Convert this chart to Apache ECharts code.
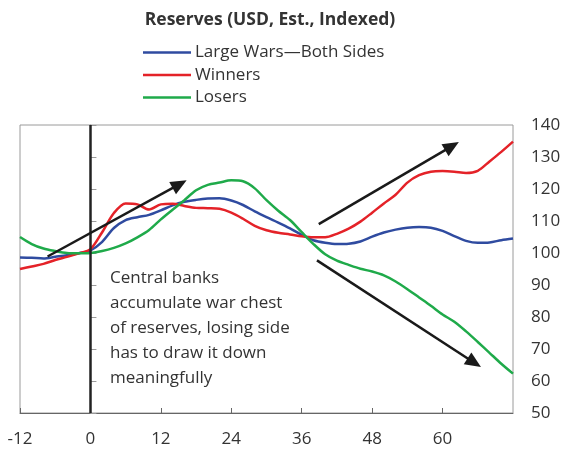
<!DOCTYPE html>
<html><head><meta charset="utf-8">
<script src="https://cdn.jsdelivr.net/npm/echarts@6/dist/echarts.min.js"></script>
<style>html,body{margin:0;padding:0;background:#fff}#c{width:565px;height:450px}</style>
</head><body><div id="c"></div>
<script>
const months = [-12,-10,-8,-6,-4,-2,0,2,4,6,8,10,12,14,16,18,20,22,24,26,28,30,32,34,36,38,40,42,44,46,48,50,52,54,56,58,60,62,64,66,68,70,72];
const bothSides = [98.6,98.5,98.3,98.8,99.3,99.9,100.8,103.5,107.8,110.3,111.2,111.9,113.3,114.9,116,116.6,117,117.1,116.4,115,113,111.2,109.5,107.7,105.7,104,103.2,102.8,102.9,103.6,105.1,106.4,107.3,107.9,108.1,107.9,106.9,105.3,103.8,103.2,103.3,104,104.5];
const winners = [95,95.8,96.6,97.8,98.8,99.9,101.2,106.5,112.5,115.5,115.2,113.6,115.2,115.4,114.7,114.1,114,113.8,112.6,110.7,108.5,107.1,106.3,105.8,105.2,104.9,104.9,106,107.6,109.8,112.6,115.5,118.2,122,124.3,125.4,125.6,125.4,125,125.7,128.6,131.6,134.8];
const losers = [105,102.8,101.4,100.6,100,99.9,100,100.6,101.6,103,104.9,107.2,110.5,113.5,116.5,119.6,121.3,122,122.7,122.4,120.2,116.5,113.2,110.3,106.5,102.8,99.6,97.6,96.3,95.1,94.2,93,91.1,88.7,86.1,83.5,80.8,78.5,75.5,72.2,68.8,65.4,62.3];
const seriesNames = ['Large Wars\u2014Both Sides','Winners','Losers'];
const xTicks = {min:-12, max:72, interval:12};
const yTicks = {min:50, max:140, interval:10};
const arrows = [[[-7.3,98.9],[15.2,121.5]],[[38.9,109],[61.6,133.4]],[[38.6,97.7],[65.4,65.7]]];
const note = 'Central banks\naccumulate war chest\nof reserves, losing side\nhas to draw it down\nmeaningfully';

const FONT = '"Open Sans", "Noto Sans", sans-serif';
const colors = ['#2f4ba0','#e42228','#1faa4a'];
const zip = a => months.map((m,i)=>[m,a[i]]);
const chart = echarts.init(document.getElementById('c'));
const lineSeries = [bothSides,winners,losers].map((d,i)=>({
  name: seriesNames[i], type:'line', data: zip(d), smooth:0.3, symbol:'none',
  lineStyle:{width:2.5,color:colors[i]}, itemStyle:{color:colors[i]}, z:3
}));
lineSeries.push({
  type:'line', data:[], silent:true, z:4,
  markLine:{
    silent:true, animation:false,
    label:{show:false},
    data:[
      [{xAxis:0, yAxis:yTicks.min, symbol:'none', lineStyle:{color:'#222',width:2.5,type:'solid'}},
       {xAxis:0, yAxis:yTicks.max, symbol:'none'}],
      ...arrows.map(a=>[
        {coord:a[0], symbol:'none', lineStyle:{color:'#1a1a1a',width:2.5,type:'solid'}},
        {coord:a[1], symbol:'triangle', symbolSize:[14,16]}
      ])
    ]
  }
});
chart.setOption({
  animation:false,
  title:{text:'Reserves (USD, Est., Indexed)', left:265, top:6, textAlign:'center',
    textStyle:{fontFamily:FONT, fontSize:17.5, fontWeight:'bold', color:'#333'}},
  legend:{orient:'vertical', left:143, top:44, padding:0, itemWidth:48, itemHeight:14, itemGap:5.5,
    icon:'path://M0,6 L48,6 L48,8.5 L0,8.5 Z',
    textStyle:{fontFamily:FONT, fontSize:17, color:'#333', padding:[0,0,0,-1]},
    data:seriesNames},
  grid:{left:20, right:52, top:125, bottom:37, show:true, borderColor:'#9a9a9a', borderWidth:1},
  xAxis:{type:'value', min:xTicks.min, max:xTicks.max, interval:xTicks.interval,
    axisLine:{lineStyle:{color:'#666',width:1}}, axisTick:{inside:true,length:5,lineStyle:{color:'#666'}},
    splitLine:{show:false},
    axisLabel:{showMaxLabel:false, fontFamily:FONT, fontSize:17, color:'#333', margin:18}},
  yAxis:{type:'value', position:'right', min:yTicks.min, max:yTicks.max, interval:yTicks.interval,
    axisLine:{show:true, lineStyle:{color:'#9a9a9a'}}, axisTick:{show:true,length:6,lineStyle:{color:'#9a9a9a'}},
    splitLine:{show:false},
    axisLabel:{fontFamily:FONT, fontSize:17, color:'#333', margin:18}},
  graphic:[{type:'text', left:110, top:266, silent:true,
    style:{text:note, fontFamily:FONT, fontSize:17, lineHeight:25, fill:'#333'}}],
  series: lineSeries
});
</script></body></html>
